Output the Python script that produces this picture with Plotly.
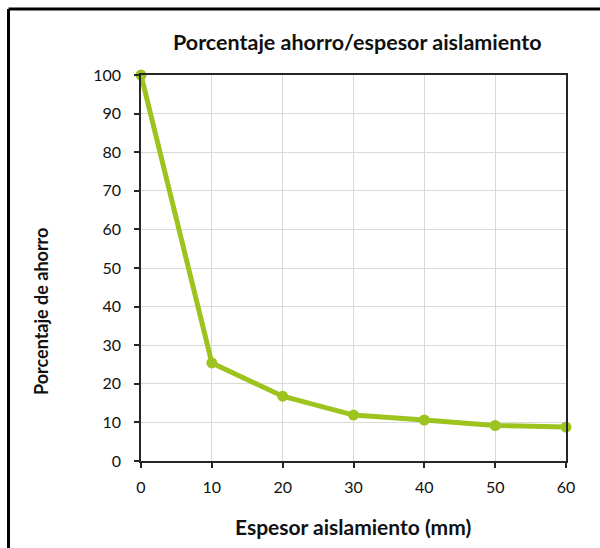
import plotly.graph_objects as go

x_vals = [0, 10, 20, 30, 40, 50, 60]
y_vals = [100, 25.4, 16.8, 11.9, 10.6, 9.2, 8.8]
x_ticks = [0, 10, 20, 30, 40, 50, 60]
y_ticks = [0, 10, 20, 30, 40, 50, 60, 70, 80, 90, 100]

title_text = "Porcentaje ahorro/espesor aislamiento"
x_title = "Espesor aislamiento (mm)"
y_title = "Porcentaje de ahorro"

W, H = 600, 548
L, R, T, B = 141, 34, 75, 87
pw, ph = W - L - R, H - T - B

def px(xp):
    return (xp - L) / pw

def py(yp):
    return (H - B - yp) / ph

green = "#9DC41E"
font_fam = "Lato, Noto Sans, sans-serif"

fig = go.Figure()
fig.add_trace(go.Scatter(
    x=x_vals, y=y_vals, mode="lines+markers",
    line=dict(color=green, width=5),
    marker=dict(color=green, size=11),
    cliponaxis=False, showlegend=False,
))

axis_common = dict(
    showgrid=True, gridcolor="#D9D9D9", gridwidth=1,
    showline=True, linecolor="#262626", linewidth=1.5, mirror=True,
    ticks="outside", ticklen=5, tickcolor="#262626", tickwidth=1.5,
    zeroline=False,
    tickfont=dict(family=font_fam, size=16, color="#111111"),
)

fig.update_xaxes(range=[0, 60], tickvals=x_ticks, ticklabelstandoff=6, **axis_common)
fig.update_yaxes(range=[0, 100], tickvals=y_ticks, ticklabelstandoff=10, **axis_common)

ann_common = dict(xref="paper", yref="paper", showarrow=False,
                  xanchor="center", yanchor="middle")

fig.update_layout(
    width=W, height=H,
    margin=dict(l=L, r=R, t=T, b=B),
    paper_bgcolor="white", plot_bgcolor="white",
    annotations=[
        dict(text="<b>" + title_text + "</b>", x=px(357), y=py(42),
             font=dict(family=font_fam, size=21.5, color="#111111"), **ann_common),
        dict(text="<b>" + x_title + "</b>", x=px(352.5), y=py(526),
             font=dict(family=font_fam, size=21, color="#111111"), **ann_common),
        dict(text="<b>" + y_title + "</b>", x=px(41), y=py(312), textangle=-90,
             font=dict(family=font_fam, size=18, color="#111111"), **ann_common),
    ],
    shapes=[
        dict(type="line", xref="paper", yref="paper",
             x0=px(8.5), x1=px(600), y0=py(9), y1=py(9),
             line=dict(color="black", width=3)),
        dict(type="line", xref="paper", yref="paper",
             x0=px(8.5), x1=px(8.5), y0=py(9), y1=py(548),
             line=dict(color="black", width=3)),
    ],
)

fig.write_html("out.html")
